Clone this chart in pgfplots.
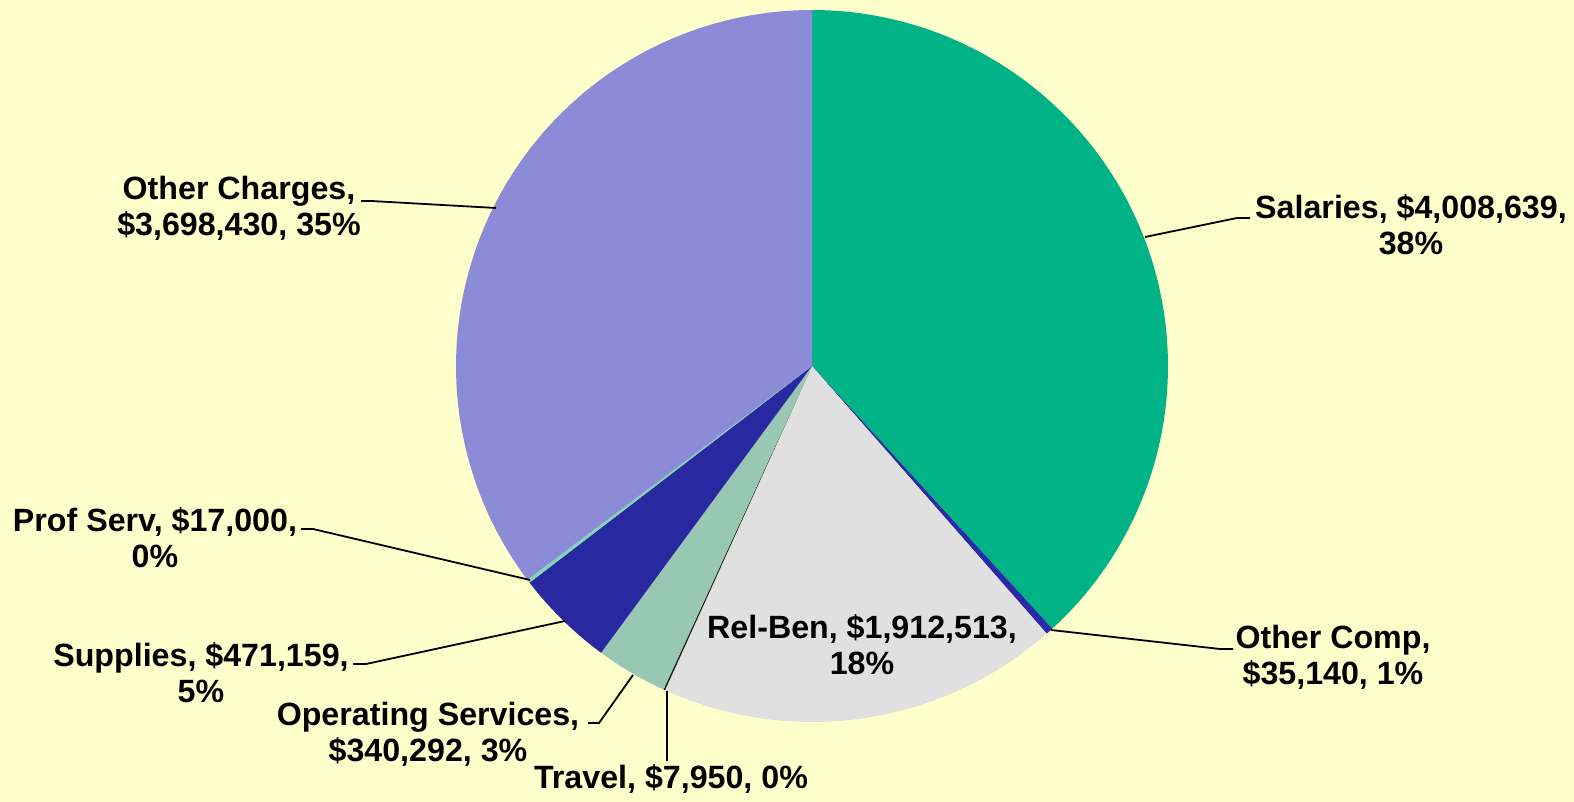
\documentclass[border=0pt]{standalone}
\usepackage{pgfplots}
\pgfplotsset{compat=1.18}
\usepackage{pgfplotstable}
\usepackage{fontspec}
\setmainfont{Liberation Sans}
\definecolor{bg}{HTML}{FFFFCC}
\definecolor{cSal}{HTML}{00B386}
\definecolor{cOComp}{HTML}{2A2AA8}
\definecolor{cRel}{HTML}{E0E0E0}
\definecolor{cTrav}{HTML}{1A1A1A}
\definecolor{cOp}{HTML}{98C8B4}
\definecolor{cSup}{HTML}{2828A0}
\definecolor{cProf}{HTML}{7FD7B5}
\definecolor{cOChg}{HTML}{8B8BD8}
\pgfplotstableread{
name value
Salaries 4008639
OtherComp 35140
RelBen 1912513
Travel 7950
OpServ 340292
Supplies 471159
ProfServ 17000
OtherCharges 3698430
}\datatable
\newcommand\getval[2]{\pgfplotstablegetelem{#1}{value}\of\datatable\global\let#2\pgfplotsretval}
\begin{document}
\begin{tikzpicture}
\getval{0}\vA \getval{1}\vB \getval{2}\vC \getval{3}\vD
\getval{4}\vE \getval{5}\vF \getval{6}\vG \getval{7}\vH
\edef\total{\fpeval{\vA+\vB+\vC+\vD+\vE+\vF+\vG+\vH}}
\edef\aA{90}
\edef\aB{\fpeval{90-360*(\vA)/\total}}
\edef\aC{\fpeval{90-360*(\vA+\vB)/\total}}
\edef\aD{\fpeval{90-360*(\vA+\vB+\vC)/\total}}
\edef\aE{\fpeval{90-360*(\vA+\vB+\vC+\vD)/\total}}
\edef\aF{\fpeval{90-360*(\vA+\vB+\vC+\vD+\vE)/\total}}
\edef\aG{\fpeval{90-360*(\vA+\vB+\vC+\vD+\vE+\vF)/\total}}
\edef\aH{\fpeval{90-360*(\vA+\vB+\vC+\vD+\vE+\vF+\vG)/\total}}
\edef\aI{-270}
\def\cx{812}\def\cy{436}\def\rr{356}
\begin{axis}[
  scale only axis, width=787pt, height=401pt,
  xmin=0, xmax=1574, ymin=0, ymax=802,
  hide axis, clip=false,
]
\fill[bg] (axis cs:0,0) rectangle (axis cs:1574,802);
\addplot[fill=cSal, draw=none, domain=\aB:\aA, samples=120] ({\cx+\rr*cos(x)},{\cy+\rr*sin(x)}) -- (axis cs:\cx,\cy) -- cycle;
\addplot[fill=cOComp, draw=none, domain=\aC:\aB, samples=10] ({\cx+\rr*cos(x)},{\cy+\rr*sin(x)}) -- (axis cs:\cx,\cy) -- cycle;
\addplot[fill=cRel, draw=none, domain=\aD:\aC, samples=80] ({\cx+\rr*cos(x)},{\cy+\rr*sin(x)}) -- (axis cs:\cx,\cy) -- cycle;
\addplot[fill=cTrav, draw=none, domain=\aE:\aD, samples=5] ({\cx+\rr*cos(x)},{\cy+\rr*sin(x)}) -- (axis cs:\cx,\cy) -- cycle;
\addplot[fill=cOp, draw=none, domain=\aF:\aE, samples=20] ({\cx+\rr*cos(x)},{\cy+\rr*sin(x)}) -- (axis cs:\cx,\cy) -- cycle;
\addplot[fill=cSup, draw=none, domain=\aG:\aF, samples=25] ({\cx+\rr*cos(x)},{\cy+\rr*sin(x)}) -- (axis cs:\cx,\cy) -- cycle;
\addplot[fill=cProf, draw=none, domain=\aH:\aG, samples=5] ({\cx+\rr*cos(x)},{\cy+\rr*sin(x)}) -- (axis cs:\cx,\cy) -- cycle;
\addplot[fill=cOChg, draw=none, domain=\aI:\aH, samples=120] ({\cx+\rr*cos(x)},{\cy+\rr*sin(x)}) -- (axis cs:\cx,\cy) -- cycle;
% leader lines
\begin{scope}[line width=0.9pt, black]
\draw (axis cs:1145,565) -- (axis cs:1237,584) -- (axis cs:1250,584);
\draw (axis cs:1051,172) -- (axis cs:1220,153) -- (axis cs:1233,153);
\draw (axis cs:496,594) -- (axis cs:371,601) -- (axis cs:361,601);
\draw (axis cs:530,222) -- (axis cs:313,273) -- (axis cs:301,273);
\draw (axis cs:565,181) -- (axis cs:366,138) -- (axis cs:353,138);
\draw (axis cs:633,127) -- (axis cs:599,79) -- (axis cs:588,79);
\draw (axis cs:667,111) -- (axis cs:667,41);
\end{scope}
% labels
\begin{scope}[every node/.style={align=center, inner sep=0pt, font=\fontsize{16.1}{18.1}\selectfont\bfseries}]
\node at (axis cs:1411,577) {Salaries, \$4,008,639,\\38\%};
\node at (axis cs:1333,144.5) {Other Comp,\\\$35,140, 1\%};
\node at (axis cs:862,157) {Rel-Ben, \$1,912,513,\\18\%};
\node at (axis cs:671,23) {Travel, \$7,950, 0\%};
\node at (axis cs:428,68) {Operating Services,\\\$340,292, 3\%};
\node at (axis cs:201,129.5) {Supplies, \$471,159,\\5\%};
\node at (axis cs:155,264) {Prof Serv, \$17,000,\\0\%};
\node at (axis cs:239,594) {Other Charges,\\\$3,698,430, 35\%};
\end{scope}
\end{axis}
\end{tikzpicture}
\end{document}
